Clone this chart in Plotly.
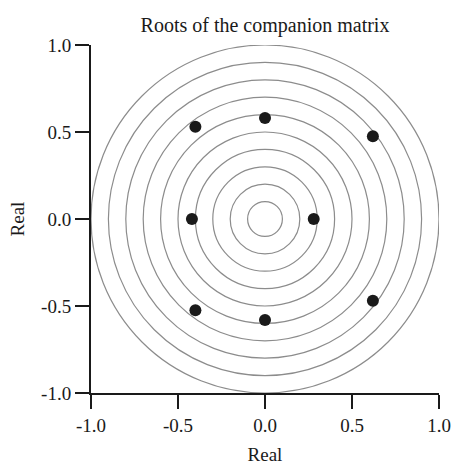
import plotly.graph_objects as go

# Roots of the companion matrix
root_re = [0.0, -0.40, 0.62, -0.42, 0.28, -0.40, 0.0, 0.62]
root_im = [0.58, 0.53, 0.475, 0.0, 0.0, -0.525, -0.58, -0.47]

# reference circles
radii = [0.1, 0.2, 0.3, 0.4, 0.5, 0.6, 0.7, 0.8, 0.9, 1.0]
tick_vals = [-1.0, -0.5, 0.0, 0.5, 1.0]
tick_text = ["-1.0", "-0.5", "0.0", "0.5", "1.0"]

fig = go.Figure()
fig.add_trace(go.Scatter(x=root_re, y=root_im, mode="markers",
                         marker=dict(color="#1a1a1a", size=12), showlegend=False))

for r in radii:
    fig.add_shape(type="circle", xref="x", yref="y", x0=-r, y0=-r, x1=r, y1=r,
                  line=dict(color="#8c8c8c", width=1.2), layer="below")

axis_style = dict(range=[-1, 1], tickvals=tick_vals, ticktext=tick_text,
                  showgrid=False, zeroline=False, showline=True, automargin=False,
                  linecolor="#1a1a1a", linewidth=2, ticks="outside",
                  ticklen=14, tickwidth=2, tickcolor="#1a1a1a",
                  tickfont=dict(size=19, color="#1a1a1a"))

fig.update_xaxes(**axis_style, title=dict(text="Real", font=dict(size=19), standoff=16))
fig.update_yaxes(**axis_style, title=dict(text="Real", font=dict(size=19), standoff=11))

fig.update_layout(
    width=452, height=465,
    margin=dict(l=91, r=13, t=45, b=72),
    plot_bgcolor="white", paper_bgcolor="white",
    font=dict(family="Liberation Serif", color="#1a1a1a", size=19),
    title=dict(text="Roots of the companion matrix", xref="paper", x=0.5, xanchor="center",
               yref="container", y=0.946, yanchor="middle", font=dict(size=20)),
)

# drop the default body margin so the figure fills the window exactly
fig.write_html("out.html", config={"displayModeBar": False},
               post_script="document.body.style.margin='0';document.body.style.overflow='hidden';")
